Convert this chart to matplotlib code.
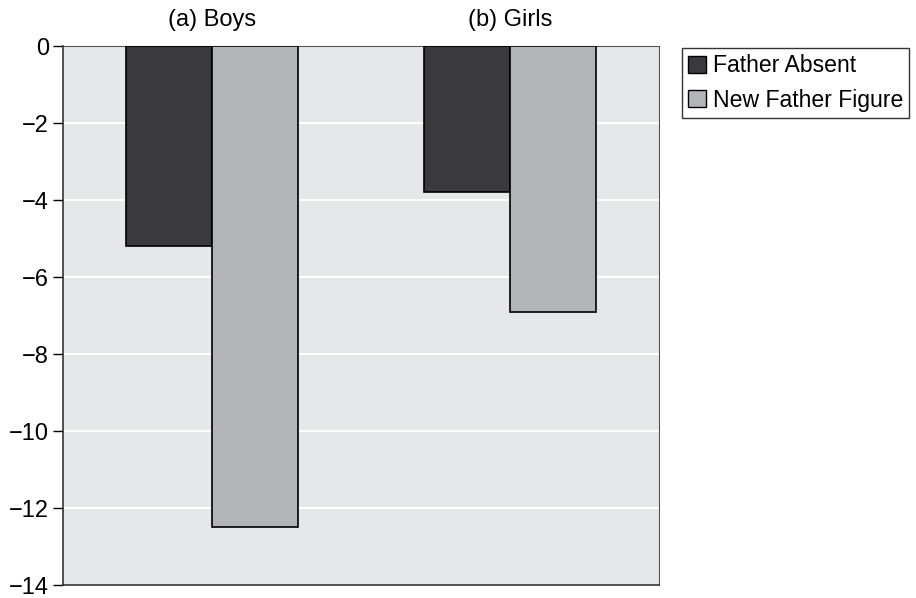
import matplotlib.pyplot as plt
from matplotlib.patches import Patch
import numpy as np

plt.rcParams['font.family'] = ['Liberation Sans', 'DejaVu Sans']

# Change by group and family situation
groups = ["(a) Boys", "(b) Girls"]
father_absent = [-5.2, -3.8]
new_father_figure = [-12.5, -6.9]
series_names = ["Father Absent", "New Father Figure"]
y_ticks = [0, -2, -4, -6, -8, -10, -12, -14]

dark = "#3a3a3c"
light = "#b3b4b7"
bg = "#e6e7e8"

fig = plt.figure(figsize=(9.16, 5.98), dpi=100)
ax = fig.add_axes([0.0688, 0.0217, 0.6506, 0.9013])
ax.set_facecolor(bg)

x = np.arange(len(groups))
w = 0.29
ax.bar(x - w / 2, father_absent, w, color=dark, edgecolor="black", linewidth=1.2, zorder=3)
ax.bar(x + w / 2, new_father_figure, w, color=light, edgecolor="black", linewidth=1.2, zorder=3)

ax.set_xlim(-0.5, 1.5)
ax.set_ylim(-14, 0)
ax.set_yticks(y_ticks)
ax.yaxis.grid(True, color="white", linewidth=1.5, zorder=1)
ax.set_axisbelow(True)

# group names along the top
ax.xaxis.tick_top()
ax.set_xticks(x)
ax.set_xticklabels(groups, fontsize=17)
ax.tick_params(axis="x", length=0, pad=11)
ax.tick_params(axis="y", labelsize=17, length=7, width=1, direction="out", pad=3)

for side in ["left", "bottom"]:
    ax.spines[side].set_color("#333333")
    ax.spines[side].set_linewidth(1.2)
for side in ["top", "right"]:
    ax.spines[side].set_color("#555555")
    ax.spines[side].set_linewidth(0.8)

handles = [Patch(facecolor=dark, edgecolor="black", linewidth=1),
           Patch(facecolor=light, edgecolor="black", linewidth=1)]
leg = fig.legend(handles, series_names, loc="upper left",
                 bbox_to_anchor=(682 / 916, 1 - 48 / 598), fontsize=16.6,
                 frameon=True, fancybox=False, handlelength=0.75, handleheight=0.75,
                 handletextpad=0.3, borderpad=0.28, labelspacing=0.5, borderaxespad=0)
leg.get_frame().set_edgecolor("black")
leg.get_frame().set_linewidth(1)

fig.savefig("out.png", dpi=100)
